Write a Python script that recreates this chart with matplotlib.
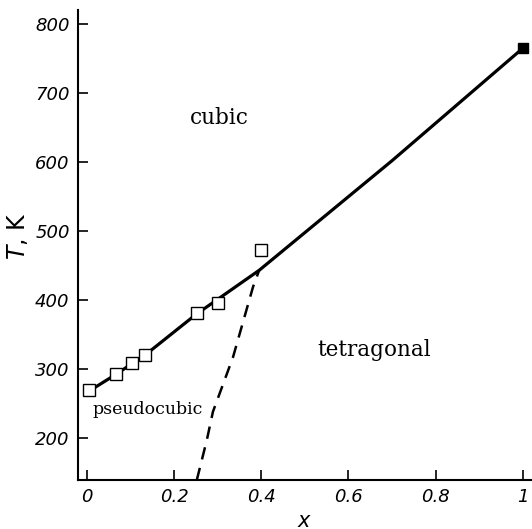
import matplotlib
matplotlib.use("Agg")
import matplotlib.pyplot as plt

# measured points (open squares)
x_open = [0.005, 0.066, 0.104, 0.133, 0.252, 0.300, 0.400]
t_open = [270, 293, 309, 320, 381, 396, 472]
# x = 1 end point (filled)
x_fill = [1.0]
t_fill = [765]

# cubic / tetragonal boundary (solid)
x_line = [0.0, 0.066, 0.104, 0.133, 0.252, 0.300, 0.395, 0.70, 1.0]
t_line = [266, 292, 308, 320, 380, 401, 443, 602, 765]

# pseudocubic / tetragonal boundary (dashed)
x_dash = [0.252, 0.275, 0.289, 0.335, 0.381, 0.395]
t_dash = [139, 197, 238, 317, 419, 443]

x_ticks = [0, 0.2, 0.4, 0.6, 0.8, 1.0]
x_ticklabels = ["0", "0.2", "0.4", "0.6", "0.8", "1"]
y_ticks = [200, 300, 400, 500, 600, 700, 800]

fig = plt.figure(figsize=(5.32, 5.29), dpi=100)
ax = fig.add_axes([0.1466, 0.0926, 0.8534, 0.888])

ax.plot(x_line, t_line, "-", color="black", lw=2.3, zorder=2)
ax.plot(x_dash, t_dash, "--", color="black", lw=1.8, dashes=(5, 3.5), zorder=2)
ax.plot(x_open, t_open, "s", color="black", mfc="white", mew=1.0, ms=8.5, zorder=3)
ax.plot(x_fill, t_fill, "s", color="black", ms=7, zorder=3)

ax.set_xlim(-0.0206, 1.021)
ax.set_ylim(139, 820)

for s in ("top", "right"):
    ax.spines[s].set_visible(False)
for s in ("left", "bottom"):
    ax.spines[s].set_linewidth(1.5)

ax.set_xticks(x_ticks)
ax.set_xticklabels(x_ticklabels)
ax.set_yticks(y_ticks)
ax.tick_params(direction="in", length=7, width=1.2, labelsize=13, pad=6)
for lab in ax.get_xticklabels() + ax.get_yticklabels():
    lab.set_fontstyle("italic")

ax.set_xlabel("$x$", fontsize=15)
ax.xaxis.set_label_coords(0.5, -0.065)
ax.set_ylabel("$T$, K", fontsize=17)
ax.yaxis.set_label_coords(-0.105, 0.52)

lab_kw = dict(family="DejaVu Serif", ha="center", va="center")
ax.text(0.303, 664, "cubic", fontsize=15.5, **lab_kw)
ax.text(0.14, 241, "pseudocubic", fontsize=12.5, **lab_kw)
ax.text(0.66, 327, "tetragonal", fontsize=15.5, **lab_kw)

fig.savefig("out.png", dpi=100)
